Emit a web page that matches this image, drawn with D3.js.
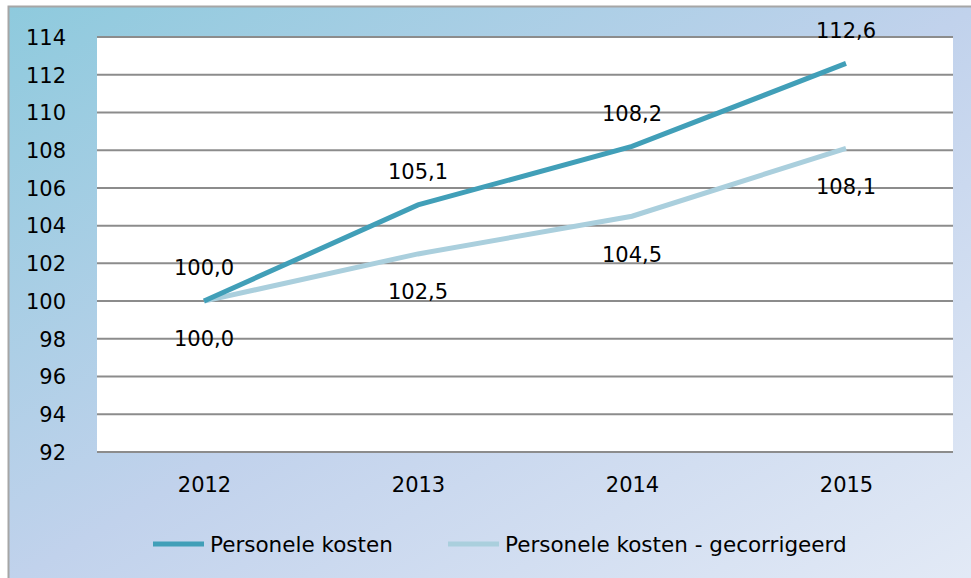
<!DOCTYPE html>
<html>
<head>
<meta charset="utf-8">
<script src="https://cdn.jsdelivr.net/npm/d3@7"></script>
<style>
body { margin: 0; background: #fff; }
text { font-family: "DejaVu Sans", sans-serif; fill: #000; }
</style>
</head>
<body>
<div id="target"></div>
<script>
const years = ["2012", "2013", "2014", "2015"];
const kosten = [100.0, 105.1, 108.2, 112.6];
const gecorrigeerd = [100.0, 102.5, 104.5, 108.1];
const yTicks = [92, 94, 96, 98, 100, 102, 104, 106, 108, 110, 112, 114];
const seriesNames = ["Personele kosten", "Personele kosten - gecorrigeerd"];
const seriesColors = ["#419fb8", "#aacfdd"];

const W = 971, H = 578;
const margin = {top: 37, right: 18, bottom: 126, left: 97},
width = W - margin.left - margin.right,
height = H - margin.top - margin.bottom;
const fs = "21px";

let svg = d3.select("#target").append("svg")
.attr("width", W)
.attr("height", H);

let defs = svg.append("defs");
let grad = defs.append("linearGradient").attr("id", "bg")
    .attr("x1", "0%").attr("y1", "0%").attr("x2", "100%").attr("y2", "100%");
grad.append("stop").attr("offset", "0%").attr("stop-color", "#8ecadd");
grad.append("stop").attr("offset", "50%").attr("stop-color", "#c1d2ec");
grad.append("stop").attr("offset", "100%").attr("stop-color", "#e3eaf6");

svg.append("rect")
    .attr("x", 8.5).attr("y", 6.5)
    .attr("width", W).attr("height", H)
    .attr("fill", "url(#bg)")
    .attr("stroke", "#a6a6a6").attr("stroke-width", 2);

let x = d3.scalePoint().domain(years).range([0, width]).padding(0.5);
let y = d3.scaleLinear().domain([92, 114]).range([height, 0]);

let g = svg.append("g").attr("transform", `translate(${margin.left},${margin.top})`);

g.append("rect").attr("width", width).attr("height", height).attr("fill", "#fff");

// gridlines
g.append("g").selectAll("line").data(yTicks).join("line")
    .attr("x1", 0).attr("x2", width)
    .attr("y1", d => y(d)).attr("y2", d => y(d))
    .attr("stroke", "#8c8c8c").attr("stroke-width", 2);

// y axis labels
let yAxis = g.append("g").call(d3.axisLeft(y).tickValues(yTicks).tickSize(0).tickPadding(31));
yAxis.select(".domain").remove();
yAxis.selectAll("text").style("font-size", fs).attr("font-family", null).attr("dy", "0.35em");

// x axis labels
let xAxis = g.append("g").attr("transform", `translate(0,${height})`)
    .call(d3.axisBottom(x).tickSize(0).tickPadding(25));
xAxis.select(".domain").remove();
xAxis.selectAll("text").style("font-size", fs).attr("font-family", null);

const series = [kosten, gecorrigeerd];
let line = d3.line().x((d, i) => x(years[i])).y(d => y(d));

series.slice().reverse().forEach((s, k) => {
    let idx = series.length - 1 - k;
    g.append("path").datum(s)
        .attr("fill", "none")
        .attr("stroke", seriesColors[idx])
        .attr("stroke-width", 5)
        .attr("d", line);
});

const fmt = v => v.toFixed(1).replace(".", ",");
// data labels: first series above, second below
g.append("g").selectAll("text").data(kosten).join("text")
    .attr("x", (d, i) => x(years[i]))
    .attr("y", d => y(d) - 33)
    .attr("dy", "0.35em")
    .attr("text-anchor", "middle")
    .style("font-size", fs)
    .text(fmt);
g.append("g").selectAll("text").data(gecorrigeerd).join("text")
    .attr("x", (d, i) => x(years[i]))
    .attr("y", d => y(d) + 38)
    .attr("dy", "0.35em")
    .attr("text-anchor", "middle")
    .style("font-size", fs)
    .text(fmt);

// legend
const legendX = [153, 448];
let legend = svg.append("g").attr("transform", "translate(0,544)");
seriesNames.forEach((n, i) => {
    legend.append("line")
        .attr("x1", legendX[i]).attr("x2", legendX[i] + 51)
        .attr("stroke", seriesColors[i]).attr("stroke-width", 5);
    legend.append("text")
        .attr("x", legendX[i] + 57).attr("dy", "0.35em")
        .style("font-size", "21.5px")
        .text(n);
});
</script>
</body>
</html>
